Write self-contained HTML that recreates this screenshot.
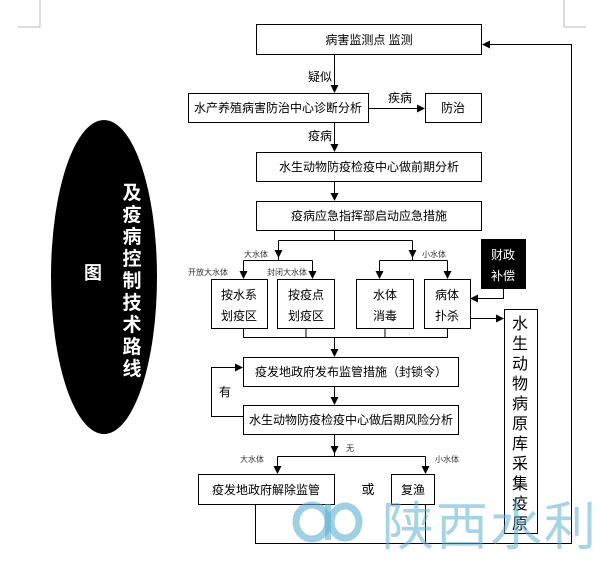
<!DOCTYPE html>
<html><head><meta charset="utf-8"><style>
html,body{margin:0;padding:0;background:#fff;}
svg{display:block;}
text{font-family:"Liberation Sans","Noto Sans CJK SC",sans-serif;}
</style></head><body>
<svg width="600" height="561" viewBox="0 0 600 561" xmlns="http://www.w3.org/2000/svg">
<defs><marker id="a" markerWidth="8" markerHeight="8" refX="7" refY="4" orient="auto" markerUnits="userSpaceOnUse"><path d="M0,0 L8,4 L0,8 z" fill="#000"/></marker></defs>
<g stroke="#bbb" fill="none"><path d="M40,0 V27 H18"/><path d="M564,0 V27 H586"/></g>
<ellipse cx="104" cy="277" rx="53" ry="157" fill="#000"/>
<text x="93" y="279" fill="#fff" font-size="18" font-weight="bold" text-anchor="middle">图</text>
<g fill="#fff" font-size="19" font-weight="bold" text-anchor="middle">
<text x="132" y="199">及</text><text x="132" y="221">疫</text><text x="132" y="243">病</text><text x="132" y="265">控</text><text x="132" y="287">制</text><text x="132" y="309">技</text><text x="132" y="331">术</text><text x="132" y="353">路</text><text x="132" y="375">线</text>
</g>
<g stroke="#000" stroke-width="1" fill="#fff">
<rect x="256.5" y="24.5" width="225" height="30"/>
<rect x="188.5" y="93.5" width="180" height="29"/>
<rect x="425.5" y="93.5" width="56" height="29"/>
<rect x="256.5" y="152.5" width="225" height="29"/>
<rect x="256.5" y="201.5" width="225" height="29"/>
<rect x="211.5" y="279.5" width="56" height="49"/>
<rect x="277.5" y="279.5" width="57" height="49"/>
<rect x="356.5" y="279.5" width="57" height="49"/>
<rect x="424.5" y="279.5" width="46" height="49"/>
<rect x="504.5" y="309.5" width="33" height="224"/>
<rect x="243.5" y="357.5" width="215" height="29"/>
<rect x="243.5" y="405.5" width="215" height="29"/>
<rect x="198.5" y="474.5" width="136" height="30"/>
<rect x="391.5" y="474.5" width="43" height="30"/>
</g>
<rect x="481" y="239" width="45" height="50" fill="#000"/>
<g stroke="#000" stroke-width="1" fill="none">
<path d="M334.5,55 V92" marker-end="url(#a)"/>
<path d="M369,108.5 H424" marker-end="url(#a)"/>
<path d="M334.5,123 V151" marker-end="url(#a)"/>
<path d="M334.5,182 V200" marker-end="url(#a)"/>
<path d="M334.5,231 V240.5 M278.5,240.5 H412.5"/>
<path d="M278.5,240.5 V257" marker-end="url(#a)"/>
<path d="M412.5,240.5 V257" marker-end="url(#a)"/>
<path d="M278.5,257 V260.5 M243.5,260.5 H312.5 M412.5,257 V260.5 M379.5,260.5 H447.5"/>
<path d="M243.5,260.5 V278" marker-end="url(#a)"/>
<path d="M312.5,260.5 V278" marker-end="url(#a)"/>
<path d="M379.5,260.5 V278" marker-end="url(#a)"/>
<path d="M447.5,260.5 V278" marker-end="url(#a)"/>
<path d="M503.5,289 V298.5 H471" marker-end="url(#a)"/>
<path d="M471,318.5 H503" marker-end="url(#a)"/>
<path d="M243.5,329 V337.5 H447.5 V329 M306,329 V337.5 M385,329 V337.5"/>
<path d="M334.5,337.5 V356" marker-end="url(#a)"/>
<path d="M334.5,387 V404" marker-end="url(#a)"/>
<path d="M243,416.5 H211.5 V367.5 H242" marker-end="url(#a)"/>
<path d="M334.5,435 V453" marker-end="url(#a)"/>
<path d="M334.5,453 V456.5 M277.5,456.5 H425.5"/>
<path d="M277.5,456.5 V473" marker-end="url(#a)"/>
<path d="M425.5,456.5 V473" marker-end="url(#a)"/>
<path d="M255.5,505 V543.5 H571.5 V44.5 H483" marker-end="url(#a)"/>
<path d="M425.5,505 V543.5"/>
</g>
<g font-size="12" text-anchor="middle" fill="#000">
<text x="369" y="44">病害监测点  监测</text>
<text x="278" y="112">水产养殖病害防治中心诊断分析</text>
<text x="453" y="112">防治</text>
<text x="369" y="171">水生动物防疫检疫中心做前期分析</text>
<text x="369" y="220">疫病应急指挥部启动应急措施</text>
<text x="320" y="81">疑似</text>
<text x="400" y="102">疾病</text>
<text x="320" y="140">疫病</text>
<text x="239" y="299">按水系</text><text x="239" y="320">划疫区</text>
<text x="306" y="299">按疫点</text><text x="306" y="320">划疫区</text>
<text x="385" y="299">水体</text><text x="385" y="320">消毒</text>
<text x="447" y="299">病体</text><text x="447" y="320">扑杀</text>
<text x="351" y="376">疫发地政府发布监管措施（封锁令）</text>
<text x="351" y="424">水生动物防疫检疫中心做后期风险分析</text>
<text x="225" y="396">有</text>
<text x="266" y="494">疫发地政府解除监管</text>
<text x="368" y="494" font-size="13">或</text>
<text x="413" y="494">复渔</text>
</g>
<g font-size="12" text-anchor="middle" fill="#fff"><text x="503" y="259">财政</text><text x="503" y="280">补偿</text></g>
<g font-size="8" fill="#333" text-anchor="middle">
<text x="256" y="257">大水体</text><text x="434" y="257">小水体</text>
<text x="208" y="275">开放大水体</text><text x="287" y="275">封闭大水体</text>
<text x="350" y="451">无</text>
<text x="252" y="462">大水体</text><text x="447" y="462">小水体</text>
</g>
<g font-size="16" text-anchor="middle" fill="#000">
<text x="520" y="329">水</text><text x="520" y="349">生</text><text x="520" y="369">动</text><text x="520" y="389">物</text><text x="520" y="409">病</text><text x="520" y="429">原</text><text x="520" y="449">库</text><text x="520" y="469">采</text><text x="520" y="489">集</text><text x="520" y="509">疫</text><text x="520" y="529">原</text>
</g>
<g opacity="0.6" fill="none" stroke="#5fb0d0" stroke-width="7">
<ellipse cx="312" cy="522" rx="16" ry="17"/><ellipse cx="345" cy="522" rx="14" ry="16"/>
</g>
<path d="M328,504 V540" stroke="#5fb0d0" stroke-width="6" opacity="0.6"/>
<text x="490" y="545" font-size="52" text-anchor="middle" fill="#5fb0d0" opacity="0.55" letter-spacing="2">陕西水利</text>
</svg>
</body></html>
